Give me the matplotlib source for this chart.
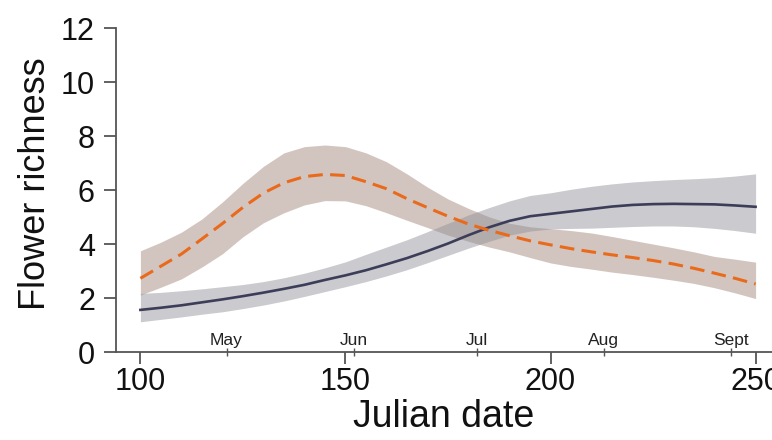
import numpy as np
import matplotlib.pyplot as plt

plt.rcParams['font.family'] = ['Liberation Sans', 'DejaVu Sans']

# julian day grid
day = list(range(100, 251, 5))

# solid (dark) series and its band
solid = [1.56, 1.64, 1.73, 1.84, 1.95, 2.07, 2.20, 2.34, 2.49, 2.67, 2.84,
         3.03, 3.25, 3.48, 3.74, 4.02, 4.33, 4.62, 4.86, 5.03, 5.12, 5.21,
         5.30, 5.39, 5.45, 5.48, 5.49, 5.48, 5.47, 5.43, 5.38]
solid_lo = [1.12, 1.21, 1.30, 1.40, 1.49, 1.61, 1.74, 1.89, 2.06, 2.24, 2.42,
            2.61, 2.82, 3.05, 3.31, 3.58, 3.85, 4.10, 4.33, 4.48, 4.56, 4.58,
            4.59, 4.62, 4.65, 4.67, 4.67, 4.64, 4.58, 4.50, 4.40]
solid_hi = [2.17, 2.21, 2.27, 2.34, 2.42, 2.50, 2.61, 2.75, 2.92, 3.12, 3.34,
            3.62, 3.89, 4.16, 4.46, 4.77, 5.08, 5.35, 5.60, 5.80, 5.90, 6.03,
            6.14, 6.23, 6.30, 6.35, 6.39, 6.42, 6.46, 6.52, 6.60]

# dashed (orange) series and its band
dashed = [2.73, 3.18, 3.63, 4.19, 4.76, 5.36, 5.89, 6.27, 6.50, 6.58, 6.54,
          6.31, 6.05, 5.68, 5.35, 5.03, 4.74, 4.51, 4.31, 4.12, 3.97, 3.83,
          3.71, 3.60, 3.50, 3.39, 3.26, 3.10, 2.92, 2.73, 2.52]
dashed_lo = [2.11, 2.40, 2.71, 3.15, 3.64, 4.27, 4.79, 5.16, 5.45, 5.61, 5.60,
             5.42, 5.16, 4.88, 4.61, 4.33, 4.10, 3.89, 3.71, 3.50, 3.30, 3.17,
             3.07, 2.96, 2.87, 2.77, 2.66, 2.54, 2.38, 2.19, 1.98]
dashed_hi = [3.75, 4.07, 4.44, 4.93, 5.56, 6.25, 6.88, 7.38, 7.61, 7.67, 7.61,
             7.38, 7.05, 6.60, 6.11, 5.67, 5.32, 5.01, 4.77, 4.64, 4.57, 4.50,
             4.41, 4.28, 4.14, 4.00, 3.86, 3.71, 3.54, 3.44, 3.33]

month_days = [121, 152, 182, 213, 244]
month_names = ['May', 'Jun', 'Jul', 'Aug', 'Sept']

fig = plt.figure(figsize=(7.72, 4.4), dpi=100)
ax = fig.add_axes([0.150, 0.20, 0.85, 0.736])

ax.fill_between(day, dashed_lo, dashed_hi, color='#9c8072', alpha=0.45, lw=0)
ax.fill_between(day, solid_lo, solid_hi, color='#90909a', alpha=0.47, lw=0)
ax.plot(day, solid, color='#3c3d58', lw=1.9)
ax.plot(day, dashed, color='#ea6a1c', lw=2.2, dashes=(4.8, 2.4))

ax.set_xlim(94, 254)
ax.set_ylim(0, 12)
ax.set_xticks([100, 150, 200, 250])
ax.set_yticks(range(0, 13, 2))
ax.set_xticks(month_days, minor=True)
ax.set_xticklabels(month_names, minor=True)

for s in ['top', 'right']:
    ax.spines[s].set_visible(False)
for s in ['left', 'bottom']:
    ax.spines[s].set_color('#555555')
    ax.spines[s].set_linewidth(1.3)

ax.tick_params(axis='both', which='major', labelsize=22, length=8.5, width=1.3,
               color='#555555', labelcolor='#111111')
ax.tick_params(axis='x', which='major', pad=2)
ax.tick_params(axis='y', which='major', pad=6.5)
ax.tick_params(axis='x', which='minor', direction='inout', length=6, width=1,
               color='#555555', labelsize=12.5, labelcolor='#222222', pad=-17)

ax.set_xlabel('Julian date', fontsize=27, color='#111111')
ax.set_ylabel('Flower richness', fontsize=26, color='#111111')
ax.xaxis.set_label_coords(0.5, -0.145)
ax.yaxis.set_label_coords(-0.095, 0.52)

fig.savefig('out.png', dpi=100)
